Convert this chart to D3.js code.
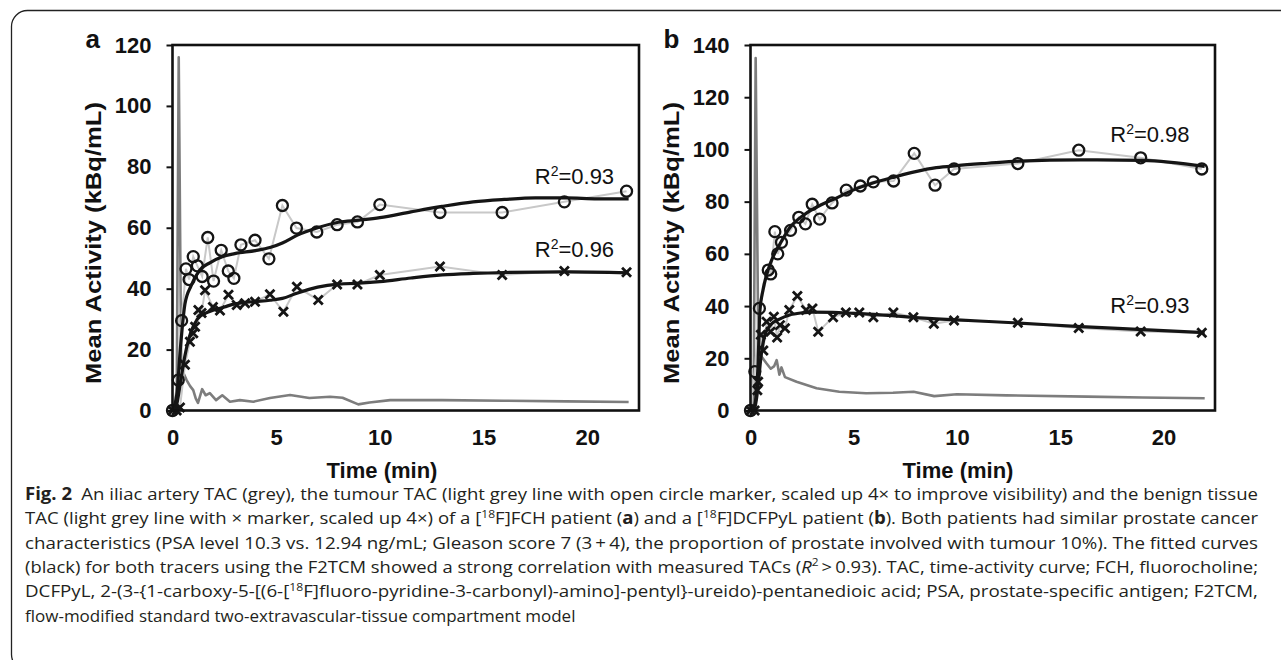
<!DOCTYPE html>
<html>
<head>
<meta charset="utf-8">
<script src="https://d3js.org/d3.v7.min.js"></script>
<style>
  body { margin: 0; background: #fff; }
  text { font-family: "Liberation Sans", Arial, sans-serif; fill: #111; }
  .cap text { font-family: "Open Sans", "Noto Sans", sans-serif; fill: #231f20; }
</style>
</head>
<body>
<svg id="fig" width="1281" height="660"></svg>

<script>
// ---- values ----
const timeTicks = [0, 5, 10, 15, 20]
const yTicksA = [0, 20, 40, 60, 80, 100, 120]
const yTicksB = [0, 20, 40, 60, 80, 100, 120, 140]

// panel a : [18F]FCH patient
const aArteryT = [0, 0.2, 0.3, 0.42, 0.55, 0.68, 0.85, 1.0, 1.12, 1.23, 1.43, 1.6, 1.8, 2.1, 2.4, 2.77, 3.25, 3.9, 4.7, 5.67, 6.6, 7.6, 8.2, 8.96, 9.5, 10.5, 13, 16, 19, 22]
const aArteryV = [0, 0, 116, 14, 12, 10, 8, 6.7, 4, 2.5, 7, 5, 5.7, 3.4, 5, 2.9, 3.4, 2.9, 4.1, 5.1, 4.1, 4.5, 4.2, 2.0, 2.6, 3.4, 3.4, 3.2, 3.0, 2.8]
const aTumourT = [0, 0.28, 0.44, 0.65, 0.8, 1.0, 1.2, 1.43, 1.7, 1.98, 2.35, 2.69, 2.96, 3.3, 3.98, 4.65, 5.3, 5.98, 6.96, 7.94, 8.92, 10, 12.9, 15.9, 18.9, 21.9]
const aTumourV = [0, 10, 29.5, 46.5, 43, 50.5, 47.5, 44, 56.8, 42.5, 52.6, 45.8, 43.4, 54.4, 55.9, 49.8, 67.3, 59.9, 58.6, 61, 61.9, 67.6, 65, 65, 68.5, 72]
const aBenignT = [0, 0.2, 0.36, 0.6, 0.84, 1.0, 1.09, 1.25, 1.4, 1.57, 1.95, 2.29, 2.7, 3.1, 3.5, 3.98, 4.7, 5.35, 6.0, 7.03, 7.94, 8.92, 10, 12.9, 15.9, 18.9, 21.9]
const aBenignV = [0, 0, 1, 15, 22.6, 25.4, 27.5, 33, 32, 39.5, 34, 32.8, 38, 34.6, 35.2, 35.7, 38.2, 32.4, 40.6, 36.3, 41.4, 41.4, 44.5, 47.3, 44.5, 45.8, 45.4]
const aFitTumourT = [0, 0.2, 0.4, 0.6, 0.9, 1.3, 1.8, 2.4, 3.0, 4.0, 4.7, 5.3, 6.0, 7.0, 8.0, 9.0, 10.0, 11.5, 13.0, 14.5, 16.0, 17.5, 19.0, 20.5, 22.0]
const aFitTumourV = [0, 5, 22, 35, 41, 46, 48.5, 50.5, 51.5, 52.5, 53.5, 55, 57.5, 60, 61.8, 62.5, 63.3, 65.2, 67, 68.5, 69.3, 69.8, 69.8, 69.5, 69.5]
const aFitBenignT = [0, 0.2, 0.4, 0.6, 0.9, 1.2, 1.6, 2.0, 2.5, 3.0, 3.5, 4.0, 4.7, 5.3, 6.0, 7.0, 8.0, 9.0, 10.0, 11.5, 13.0, 14.5, 16.0, 19.0, 22.0]
const aFitBenignV = [0, 2, 10, 18, 26, 30, 32, 33, 34, 35, 35.5, 35.8, 36.2, 36.8, 38.5, 40.5, 41.5, 41.8, 42.3, 43.5, 44.5, 45, 45.3, 45.5, 45.2]

// panel b : [18F]DCFPyL patient
const bArteryT = [0, 0.15, 0.25, 0.38, 0.54, 0.78, 0.98, 1.15, 1.27, 1.4, 1.5, 1.67, 2.23, 3.2, 4.3, 5.6, 6.9, 7.9, 8.9, 10, 12.4, 16.3, 19, 22]
const bArteryV = [0, 0, 135, 22, 20.6, 18, 16, 17, 19.3, 13.7, 16.5, 12.8, 11, 8.5, 7.2, 6.6, 6.8, 7.2, 5.5, 6.2, 5.8, 5.3, 5, 4.7]
const bTumourT = [0, 0.21, 0.43, 0.86, 0.98, 1.18, 1.32, 1.5, 1.94, 2.34, 2.66, 2.99, 3.35, 3.95, 4.64, 5.32, 5.95, 6.93, 7.93, 8.94, 9.86, 12.95, 15.9, 18.9, 21.86]
const bTumourV = [0, 14.9, 39.1, 53.8, 52.3, 68.5, 60, 64.4, 69, 74, 71.5, 79, 73.3, 79.5, 84.4, 86, 87.6, 87.9, 98.5, 86.3, 92.5, 94.6, 99.7, 96.8, 92.5]
const bBenignT = [0, 0.2, 0.33, 0.37, 0.5, 0.62, 0.78, 0.97, 1.13, 1.29, 1.43, 1.67, 1.88, 2.27, 2.69, 3.0, 3.28, 4.0, 4.62, 5.27, 5.95, 6.92, 7.89, 8.88, 9.86, 12.95, 15.9, 18.9, 21.86]
const bBenignV = [0, 0, 7.8, 11, 29, 23, 34, 30.2, 35.9, 28, 32.7, 31.5, 38.5, 43.9, 38.5, 39.1, 30.2, 35.7, 37.5, 37.5, 35.7, 37.5, 35.7, 33.2, 34.5, 33.6, 31.6, 30.3, 29.8]
const bFitTumourT = [0, 0.2, 0.35, 0.46, 0.6, 0.85, 1.1, 1.4, 1.9, 2.6, 3.4, 4.0, 5.0, 6.0, 7.0, 8.0, 9.0, 10.0, 11.5, 13.0, 16.0, 19.0, 22.0]
const bFitTumourV = [0, 2, 15, 38.5, 46, 53.8, 59, 63.4, 70, 75, 78.7, 80.8, 84.5, 87.3, 89.5, 91.5, 93, 93.8, 94.7, 95.5, 96, 95.8, 93.5]
const bFitBenignT = [0, 0.2, 0.35, 0.5, 0.7, 1.0, 1.4, 1.9, 2.5, 3.0, 4.0, 5.0, 6.0, 7.0, 8.0, 9.0, 10.0, 13.0, 16.0, 19.0, 22.0]
const bFitBenignV = [0, 1, 8, 20, 29, 33, 35, 36.6, 37.4, 37.7, 37.6, 37.2, 36.8, 36.2, 35.6, 35.1, 34.7, 33.5, 32.1, 31, 29.8]

// R² annotations
const r2LabelsA = ["0.93", "0.96"]
const r2LabelsB = ["0.98", "0.93"]

const captionLines = [
  [{t: "Fig. 2", b: 1}, {t: "\u2002An iliac artery TAC (grey), the tumour TAC (light grey line with open circle marker, scaled up 4\u00d7 to improve visibility) and the benign tissue"}],
  [{t: "TAC (light grey line with \u00d7 marker, scaled up 4\u00d7) of a ["}, {t: "18", s: 1}, {t: "F]FCH patient ("}, {t: "a", b: 1}, {t: ") and a ["}, {t: "18", s: 1}, {t: "F]DCFPyL patient ("}, {t: "b", b: 1}, {t: "). Both patients had similar prostate cancer"}],
  [{t: "characteristics (PSA level 10.3 vs. 12.94 ng/mL; Gleason score 7 (3\u2009+\u20094), the proportion of prostate involved with tumour 10%). The fitted curves"}],
  [{t: "(black) for both tracers using the F2TCM showed a strong correlation with measured TACs ("}, {t: "R", i: 1}, {t: "2", s: 1}, {t: "\u2009>\u20090.93). TAC, time-activity curve; FCH, fluorocholine;"}],
  [{t: "DCFPyL, 2-(3-{1-carboxy-5-[(6-["}, {t: "18", s: 1}, {t: "F]fluoro-pyridine-3-carbonyl)-amino]-pentyl}-ureido)-pentanedioic acid; PSA, prostate-specific antigen; F2TCM,"}],
  [{t: "flow-modified standard two-extravascular-tissue compartment model"}]
]

// ---- layout ----
const plotTop = 45
const plotBottom = 410.5
const xMax = 22.5
const zip = (t, v) => t.map((d, i) => [d, v[i]])

const panels = [
  {letter: "a", left: 172.5, right: 639, yMax: 120, yTicks: yTicksA, timeX: 382,
   artery: zip(aArteryT, aArteryV), tumour: zip(aTumourT, aTumourV), benign: zip(aBenignT, aBenignV),
   fitTumour: zip(aFitTumourT, aFitTumourV), fitBenign: zip(aFitBenignT, aFitBenignV),
   r2: [{t: 21.3, v: 77, txt: r2LabelsA[0]}, {t: 21.3, v: 53, txt: r2LabelsA[1]}]},
  {letter: "b", left: 750.5, right: 1215, yMax: 140, yTicks: yTicksB, timeX: 958,
   artery: zip(bArteryT, bArteryV), tumour: zip(bTumourT, bTumourV), benign: zip(bBenignT, bBenignV),
   fitTumour: zip(bFitTumourT, bFitTumourV), fitBenign: zip(bFitBenignT, bFitBenignV),
   r2: [{t: 21.27, v: 106, txt: r2LabelsB[0]}, {t: 21.27, v: 40.3, txt: r2LabelsB[1]}]}
]

const svg = d3.select("#fig")

svg.append("rect").attr("width", 1281).attr("height", 660).attr("fill", "#fff")

// outer rounded border (runs off the right and bottom edges)
svg.append("rect")
  .attr("x", 11.5).attr("y", 10.5)
  .attr("width", 1300).attr("height", 660)
  .attr("rx", 16)
  .attr("fill", "none").attr("stroke", "#222").attr("stroke-width", 1.3)

panels.forEach(function(p) {
  const g = svg.append("g")
  const x = d3.scaleLinear().domain([0, xMax]).range([p.left, p.right])
  const y = d3.scaleLinear().domain([0, p.yMax]).range([plotBottom, plotTop])
  const line = d3.line().x(d => x(d[0])).y(d => y(d[1]))
  const smooth = d3.line().curve(d3.curveMonotoneX).x(d => x(d[0])).y(d => y(d[1]))

  // y axis
  const ya = g.append("g")
    .attr("transform", "translate(" + p.left + ",0)")
    .call(d3.axisLeft(y).tickValues(p.yTicks).tickSize(6).tickPadding(15))
  ya.select(".domain").remove()
  ya.selectAll("line").attr("stroke", "#111").attr("stroke-width", 2)
  ya.selectAll("text").attr("font-size", 22).attr("font-weight", "bold")
    .attr("font-family", "Liberation Sans, Arial, sans-serif").attr("fill", "#111")

  // x axis
  const xa = g.append("g")
    .attr("transform", "translate(0," + plotBottom + ")")
    .call(d3.axisBottom(x).tickValues(timeTicks).tickSize(0).tickPadding(19))
  xa.select(".domain").remove()
  xa.selectAll("text").attr("font-size", 22).attr("font-weight", "bold")
    .attr("font-family", "Liberation Sans, Arial, sans-serif").attr("fill", "#111")

  // series: artery, measured tissue TACs, fitted curves
  g.append("path").attr("d", line(p.artery))
    .attr("fill", "none").attr("stroke", "#7d7d7d").attr("stroke-width", 2.6).attr("stroke-linejoin", "round")
  g.append("path").attr("d", line(p.tumour))
    .attr("fill", "none").attr("stroke", "#c8c8c8").attr("stroke-width", 2)
  g.append("path").attr("d", line(p.benign))
    .attr("fill", "none").attr("stroke", "#c8c8c8").attr("stroke-width", 2)
  g.append("path").attr("d", smooth(p.fitTumour))
    .attr("fill", "none").attr("stroke", "#151515").attr("stroke-width", 3.2)
  g.append("path").attr("d", smooth(p.fitBenign))
    .attr("fill", "none").attr("stroke", "#151515").attr("stroke-width", 3.2)

  g.selectAll(".circ").data(p.tumour).join("circle")
    .attr("cx", d => x(d[0])).attr("cy", d => y(d[1])).attr("r", 5.5)
    .attr("fill", "none").attr("stroke", "#151515").attr("stroke-width", 2.3)

  g.selectAll(".cross").data(p.benign).join("path")
    .attr("d", function(d) {
      const cx = x(d[0]), cy = y(d[1]), s = 4.5
      return "M" + (cx - s) + "," + (cy - s) + "L" + (cx + s) + "," + (cy + s) +
             "M" + (cx - s) + "," + (cy + s) + "L" + (cx + s) + "," + (cy - s)
    })
    .attr("stroke", "#151515").attr("stroke-width", 2.8).attr("fill", "none")

  // frame
  g.append("rect")
    .attr("x", p.left).attr("y", plotTop)
    .attr("width", p.right - p.left).attr("height", plotBottom - plotTop)
    .attr("fill", "none").attr("stroke", "#111").attr("stroke-width", 2.6)

  // R² labels
  p.r2.forEach(function(r) {
    const t = g.append("text")
      .attr("x", x(r.t)).attr("y", y(r.v)).attr("dy", "0.36em")
      .attr("text-anchor", "end").attr("font-size", 22)
    t.append("tspan").text("R")
    t.append("tspan").text("2").attr("font-size", 14).attr("dy", -8)
    t.append("tspan").text("=" + r.txt).attr("dy", 8)
  })

  // axis titles
  g.append("text")
    .attr("transform", "translate(" + (p.left - 79) + ",243) rotate(-90)")
    .attr("text-anchor", "middle").attr("dy", "0.35em")
    .attr("font-size", 22).attr("font-weight", "bold")
    .attr("textLength", 282).attr("lengthAdjust", "spacingAndGlyphs")
    .text("Mean Activity (kBq/mL)")

  g.append("text")
    .attr("x", p.timeX).attr("y", 478)
    .attr("text-anchor", "middle")
    .attr("font-size", 22).attr("font-weight", "bold")
    .text("Time (min)")

  // panel letter
  g.append("text")
    .attr("x", p.left - 87).attr("y", 48)
    .attr("font-size", 26).attr("font-weight", "bold")
    .text(p.letter)
})

// caption, justified to the same width as the original
const cap = svg.append("g").attr("class", "cap")
const capWidth = 1233
const capText = captionLines.map(function(segs, i) {
  const t = cap.append("text")
    .attr("x", 25).attr("y", 500 + i * 24.3)
    .attr("font-size", 17)
    .style("white-space", "pre")
  let shift = 0
  segs.forEach(function(s) {
    const ts = t.append("tspan").text(s.t)
    if (s.b) ts.attr("font-weight", "bold")
    if (s.i) ts.attr("font-style", "italic")
    if (s.s) { ts.attr("font-size", 11).attr("dy", -6.5); shift = 6.5 }
    else if (shift) { ts.attr("dy", shift); shift = 0 }
  })
  return t
})
const squeeze = Math.min(1, capWidth / capText[0].node().getComputedTextLength())
capText.forEach(function(t, i) {
  if (i < capText.length - 1) {
    t.attr("textLength", capWidth).attr("lengthAdjust", "spacingAndGlyphs")
  } else {
    t.attr("textLength", t.node().getComputedTextLength() * squeeze).attr("lengthAdjust", "spacingAndGlyphs")
  }
})
</script>
</body>
</html>
